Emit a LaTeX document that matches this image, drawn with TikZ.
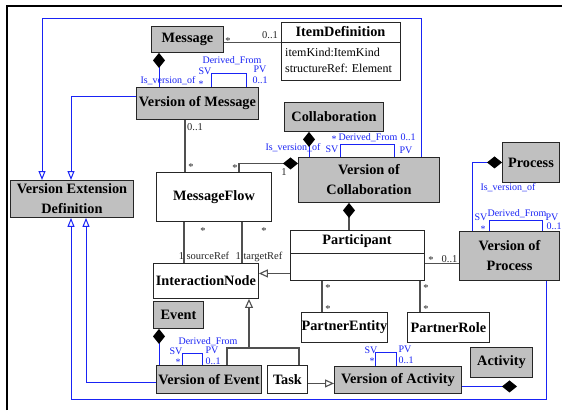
\documentclass[tikz,border=0pt]{standalone}
\usepackage{fontspec}
\setmainfont{Liberation Serif}
\usetikzlibrary{arrows.meta}
\definecolor{boxgrey}{RGB}{192,192,192}
\definecolor{lnk}{RGB}{80,80,80}
\definecolor{vblue}{RGB}{25,35,245}
\begin{document}
\begin{tikzpicture}[x=1pt,y=-1pt,
  box/.style={draw=black!85,line width=0.9pt,anchor=north west,inner sep=0pt,
    font=\fontsize{14.3}{20}\selectfont\bfseries,align=center},
  grey/.style={box,fill=boxgrey},
  assoc/.style={draw=lnk,line width=1.1pt},
  gen/.style={assoc,-{Triangle[fill=white,length=9pt,width=8pt]}},
  comp/.style={assoc,-{Diamond[color=black,fill=black,length=15pt,width=12pt]}},
  vgen/.style={draw=vblue,line width=1pt,-{Triangle[fill=white,length=9pt,width=7pt]}},
  vcomp/.style={draw=vblue,line width=1pt,-{Diamond[color=black,fill=black,length=15pt,width=12pt]}},
  vloop/.style={draw=vblue,line width=0.9pt},
  lbl/.style={text=vblue,font=\fontsize{10}{10}\selectfont,inner sep=0pt,text height=7pt,text depth=0pt},
  mlt/.style={text=black!85,font=\fontsize{10.5}{10}\selectfont,inner sep=0pt,text height=7pt,text depth=0pt},
  attr/.style={font=\fontsize{12}{14}\selectfont,inner sep=0pt,anchor=west,text height=8pt,text depth=2pt}
]
\useasboundingbox (0,0) rectangle (562,410);
\fill[white] (0,0) rectangle (562,410);
% frame
\draw[line width=2pt] (7,410) -- (7,6) -- (562,6);

% classes
\node[grey,minimum width=72pt,minimum height=26pt] (message) at (151,26) {Message};
\node[box,minimum width=119pt,minimum height=58pt] (itemdef) at (281,22) {};
\node[font=\fontsize{14.3}{16}\selectfont\bfseries,inner sep=0pt] (idname) at (340.5,32) {ItemDefinition};
\node[attr] (idattr1) at (285,53) {itemKind:ItemKind};
\node[attr] (idattr2) at (285,69) {structureRef: Element};
\draw[draw=black!85,line width=0.9pt] ([yshift=-20pt]itemdef.north west) -- ([yshift=-20pt]itemdef.north east);

\node[grey,minimum width=122pt,minimum height=32pt] (vom) at (136,87) {Version of Message};
\node[grey,minimum width=99pt,minimum height=29pt] (collab) at (284,102) {Collaboration};
\node[grey,minimum width=123pt,minimum height=37pt] (ved) at (10,180) {Version Extension\\Definition};
\node[box,fill=white,minimum width=115pt,minimum height=49pt] (mf) at (156,172) {MessageFlow};
\node[grey,minimum width=141pt,minimum height=45pt] (voc) at (298,157) {Version of\\Collaboration};
\node[grey,minimum width=57pt,minimum height=40pt] (process) at (502,142) {Process};

\node[box,fill=white,minimum width=134pt,minimum height=50pt] (part) at (290,230) {};
\node[font=\fontsize{14.3}{16}\selectfont\bfseries,inner sep=0pt] (partname) at (357,241.5) {Participant};
\draw[draw=black!85,line width=0.9pt] ([yshift=-23pt]part.north west) -- ([yshift=-23pt]part.north east);

\node[box,fill=white,minimum width=105pt,minimum height=35pt] (in) at (153,263) {InteractionNode};
\node[grey,minimum width=100pt,minimum height=49pt] (vop) at (459,231) {Version of\\Process};
\node[box,fill=white,minimum width=86pt,minimum height=30pt] (pe) at (301,312) {PartnerEntity};
\node[box,fill=white,minimum width=82pt,minimum height=30pt] (pr) at (407,312) {PartnerRole};
\node[grey,minimum width=50pt,minimum height=27pt] (event) at (153,301) {Event};
\node[grey,minimum width=62pt,minimum height=30pt] (act) at (470,347) {Activity};
\node[grey,minimum width=105pt,minimum height=28pt] (voe) at (156,365) {Version of Event};
\node[box,fill=white,minimum width=40pt,minimum height=28pt] (task) at (267,365) {Task};
\node[grey,minimum width=127pt,minimum height=27pt] (voa) at (334,366) {Version of Activity};

% generalizations into Version Extension Definition
\coordinate (topbend) at (42,18);
\coordinate (botbend) at (71,399);
\draw[vgen] ([xshift=123pt]voc.north west) |- (topbend) -- ([xshift=32pt]ved.north west);
\draw[vgen] ([yshift=7pt]vom.west) -| ([xshift=61pt]ved.north west);
\draw[vgen] ([xshift=87pt]vop.south west) |- (botbend) -- ([xshift=61pt]ved.south west);
\draw[vgen] ([yshift=-3pt]voe.west) -| ([xshift=76pt]ved.south west);

% Is_version_of compositions
\coordinate (vm1) at ([xshift=23pt]vom.north west);
\draw[vcomp] (vm1) -- (vm1 |- message.south);
\coordinate (vc1) at ([xshift=11pt]voc.north west);
\draw[vcomp] (vc1) -- (vc1 |- collab.south);
\coordinate (ve1) at ([xshift=3pt]voe.north west);
\draw[vcomp] (ve1) -- (ve1 |- event.south);
\coordinate (vp1) at ([xshift=13pt]vop.north west);
\draw[vcomp] (vp1) |- (process.west);
\coordinate (va1) at ([yshift=-6.5pt]voa.east);
\coordinate (ad) at ([xshift=47pt]act.south west);
\draw[vcomp] (va1) -- (va1 -| ad);

% Derived_From self loops
\draw[vloop] ([xshift=75pt]vom.north west) -- ++(0,-14) -| ([xshift=110pt]vom.north west);
\draw[vloop] ([xshift=42pt]voc.north west) -- ++(0,-13) -| ([xshift=96pt]voc.north west);
\draw[vloop] ([xshift=30pt]vop.north west) -- ++(0,-11) -| ([xshift=83pt]vop.north west);
\draw[vloop] ([xshift=26pt]voe.north west) -- ++(0,-12) -| ([xshift=46pt]voe.north west);
\draw[vloop] ([xshift=41pt]voa.north west) -- ++(0,-14) -| ([xshift=62pt]voa.north west);

% BPMN associations
\coordinate (m1) at ([yshift=-3pt]message.east);
\draw[assoc] (m1) -- (m1 -| itemdef.west);
\coordinate (mf1) at ([xshift=29pt]mf.north west);
\draw[assoc] (mf1) -- (mf1 |- vom.south);
\coordinate (mf2) at ([xshift=83pt]mf.north west);
\coordinate (vcw) at ([yshift=16.5pt]voc.west);
\draw[comp] (mf2) |- (vcw);
\coordinate (p1) at ([xshift=59pt]part.north west);
\draw[comp] (p1) -- (p1 |- voc.south);
\coordinate (mf3) at ([xshift=28pt]mf.south west);
\draw[assoc] (mf3) -- (mf3 |- in.north);
\coordinate (mf4) at ([xshift=86pt]mf.south west);
\draw[assoc] (mf4) -- (mf4 |- in.north);
\coordinate (pw) at ([yshift=-18pt]part.west);
\draw[gen] (pw) -- (pw -| in.east);
\coordinate (pv) at ([yshift=-8pt]part.east);
\draw[assoc] (pv) -- (pv -| vop.west);
\coordinate (pe1) at ([xshift=21pt]pe.north west);
\draw[assoc] (pe1) -- (pe1 |- part.south);
\coordinate (pr1) at ([xshift=13pt]pr.north west);
\draw[assoc] (pr1) -- (pr1 |- part.south);
\coordinate (tk) at ([yshift=-4pt]task.east);
\draw[gen] (tk) -- (tk -| voa.west);
\coordinate (ge1) at ([xshift=71pt]voe.north west);
\coordinate (ge2) at ([xshift=32pt]task.north west);
\coordinate (gbar) at (249,348);
\draw[assoc] (ge1) |- (gbar) -| (ge2);
\draw[gen] (gbar) -- (gbar |- in.south);

% multiplicities
\node[mlt] (t1) at (228,41) {*};
\node[mlt] (t2) at (270,35) {0..1};
\node[mlt] (t3) at (195,127) {0..1};
\node[mlt] (t4) at (191,167) {*};
\node[mlt] (t5) at (235,168) {*};
\node[mlt] (t6) at (284,172) {1};
\node[mlt] (t7) at (203,231) {*};
\node[mlt] (t8) at (264,231) {*};
\node[mlt] (t9) at (204,256) {1 sourceRef};
\node[mlt] (t10) at (259,256) {1 targetRef};
\node[mlt] (t11) at (431,260) {*};
\node[mlt] (t12) at (449.5,259) {0..1};
\node[mlt] (t13) at (328,288) {*};
\node[mlt] (t14) at (328,309) {*};
\node[mlt] (t15) at (426,288) {*};
\node[mlt] (t16) at (426,309) {*};

% version labels
\node[lbl] (b1) at (168,80) {Is\_version\_of};
\node[lbl] (b2) at (232,60) {Derived\_From};
\node[lbl] (b3) at (205,71) {SV};
\node[lbl] (b4) at (201,84) {*};
\node[lbl] (b5) at (260,69) {PV};
\node[lbl] (b6) at (260,80) {0..1};

\node[lbl] (c1) at (293,147) {Is\_version\_of};
\node[lbl] (c2) at (334,139) {*};
\node[lbl] (c3) at (368,137) {Derived\_From};
\node[lbl] (c4) at (408,137) {0..1};
\node[lbl] (c5) at (332,149) {SV};
\node[lbl] (c6) at (406,150) {PV};

\node[lbl] (d1) at (508,187) {Is\_version\_of};
\node[lbl] (d2) at (481,217) {SV};
\node[lbl] (d3) at (483,229) {*};
\node[lbl] (d4) at (517,213) {Derived\_From};
\node[lbl] (d5) at (552,217) {PV};
\node[lbl] (d6) at (554,226) {0..1};

\node[lbl] (e1) at (208,341) {Derived\_From};
\node[lbl] (e2) at (176,351) {SV};
\node[lbl] (e3) at (178,362) {*};
\node[lbl] (e4) at (212,350) {PV};
\node[lbl] (e5) at (213,361) {0..1};

\node[lbl] (f1) at (371,350) {SV};
\node[lbl] (f2) at (372,361) {*};
\node[lbl] (f3) at (405,349) {PV};
\node[lbl] (f4) at (406,360) {0..1};
\end{tikzpicture}
\end{document}
